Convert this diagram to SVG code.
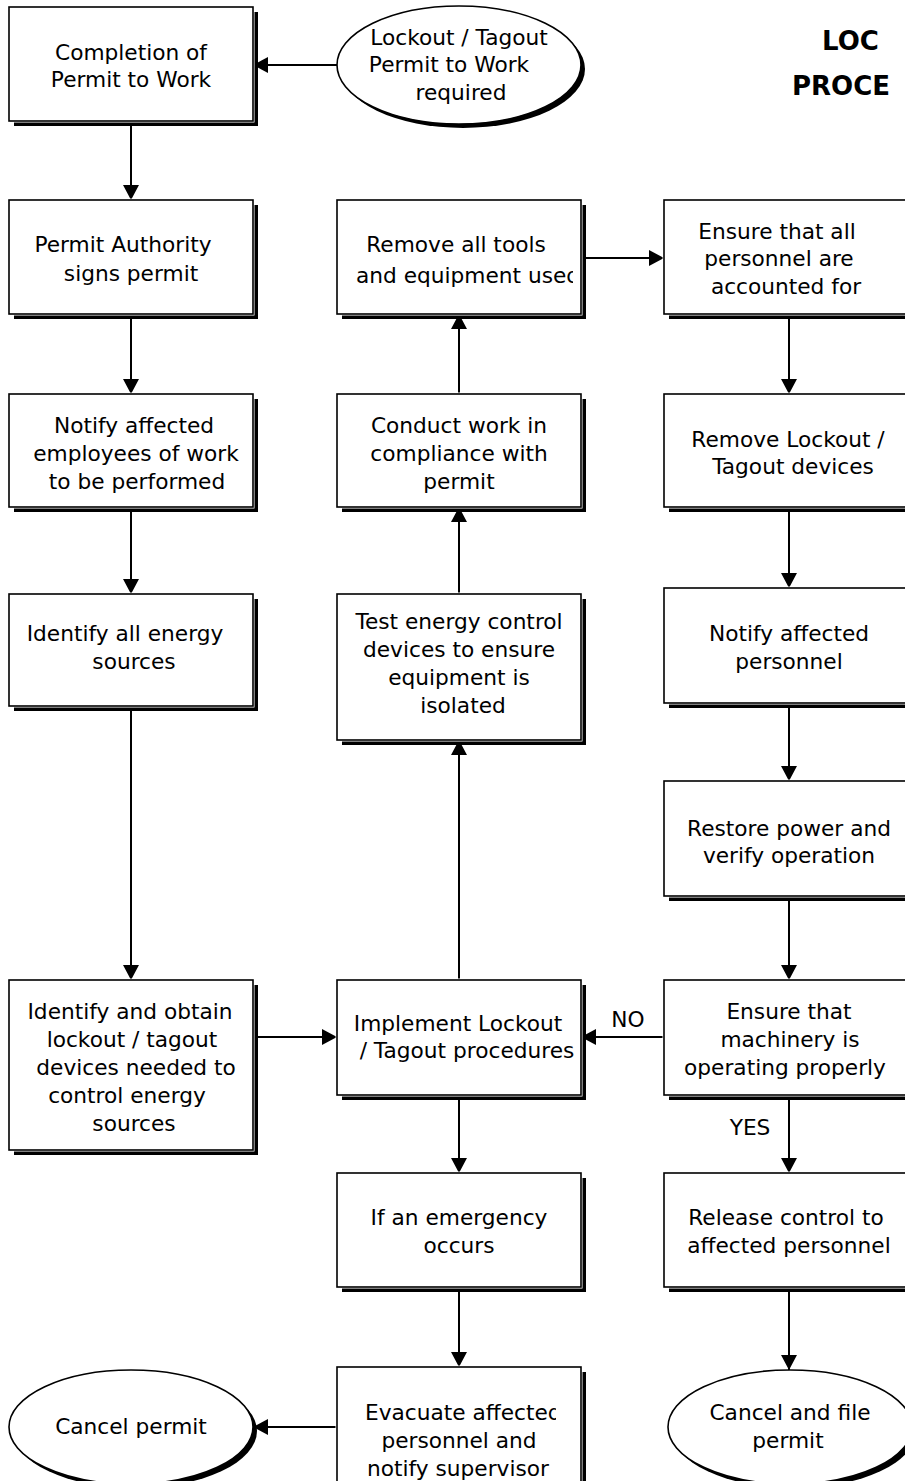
<svg xmlns="http://www.w3.org/2000/svg" width="905" height="1481" viewBox="0 0 905 1481">
<style>
.sh{fill:#000}
.bx{fill:#fff;stroke:#000;stroke-width:1.6}
.gap{fill:none;stroke:#fff;stroke-width:3}
.t{font-family:"DejaVu Sans","Liberation Sans",sans-serif;font-size:21.7px;fill:#000;text-anchor:middle}
.ts{text-anchor:start}
.title{font-family:"DejaVu Sans","Liberation Sans",sans-serif;font-size:26px;font-weight:bold;fill:#000}
.c{stroke:#000;stroke-width:2;fill:none;marker-end:url(#ah)}
</style>
<defs>
<marker id="ah" markerUnits="userSpaceOnUse" markerWidth="16" markerHeight="16" refX="15" refY="8" orient="auto">
<path d="M0,0 L15,8 L0,16 z" fill="#000"/>
</marker>
<clipPath id="cm1"><rect x="338" y="200" width="235" height="114"/></clipPath>
<clipPath id="cm2"><rect x="338" y="1367" width="218" height="114"/></clipPath>
</defs>
<rect width="905" height="1481" fill="#fff"/>

<g id="title">
<text class="title" x="822" y="50">LOC</text>
<text class="title" x="792" y="95">PROCE</text>
</g>

<g id="connectors">
<line class="c" x1="337" y1="65" x2="253" y2="65"/>
<line class="c" x1="131" y1="121" x2="131" y2="200"/>
<line class="c" x1="131" y1="314" x2="131" y2="394"/>
<line class="c" x1="131" y1="507" x2="131" y2="594"/>
<line class="c" x1="131" y1="706" x2="131" y2="980"/>
<line class="c" x1="253" y1="1037" x2="337" y2="1037"/>
<line class="c" x1="459" y1="980" x2="459" y2="740"/>
<line class="c" x1="459" y1="594" x2="459" y2="507"/>
<line class="c" x1="459" y1="394" x2="459" y2="314"/>
<line class="c" x1="581" y1="258" x2="664" y2="258"/>
<line class="c" x1="789" y1="314" x2="789" y2="394"/>
<line class="c" x1="789" y1="507" x2="789" y2="588"/>
<line class="c" x1="789" y1="703" x2="789" y2="781"/>
<line class="c" x1="789" y1="896" x2="789" y2="980"/>
<line class="c" x1="664" y1="1037" x2="581" y2="1037"/>
<line class="c" x1="789" y1="1095" x2="789" y2="1173"/>
<line class="c" x1="789" y1="1287" x2="789" y2="1370"/>
<line class="c" x1="459" y1="1095" x2="459" y2="1173"/>
<line class="c" x1="459" y1="1287" x2="459" y2="1367"/>
<line class="c" x1="337" y1="1427" x2="253" y2="1427"/>
<text class="t" x="628" y="1027">NO</text>
<text class="t" x="750" y="1135">YES</text>
</g>

<g id="n-start">
<ellipse class="sh" cx="463" cy="69" rx="122" ry="59"/>
<ellipse class="bx" cx="459" cy="65" rx="122" ry="59"/>
<text class="t" x="459" y="45">Lockout / Tagout</text>
<text class="t" x="449" y="72">Permit to Work</text>
<text class="t" x="461" y="100">required</text>
</g>

<g id="n-completion">
<rect class="sh" x="14" y="12" width="244" height="114"/>
<rect class="gap" x="9" y="7" width="244" height="114"/>
<rect class="bx" x="9" y="7" width="244" height="114"/>
<text class="t" x="131" y="60">Completion of</text>
<text class="t" x="131" y="87">Permit to Work</text>
</g>

<g id="n-authority">
<rect class="sh" x="14" y="205" width="244" height="114"/>
<rect class="gap" x="9" y="200" width="244" height="114"/>
<rect class="bx" x="9" y="200" width="244" height="114"/>
<text class="t" x="123" y="252">Permit Authority</text>
<text class="t" x="131" y="281">signs permit</text>
</g>

<g id="n-notify-emp">
<rect class="sh" x="14" y="399" width="244" height="113"/>
<rect class="gap" x="9" y="394" width="244" height="113"/>
<rect class="bx" x="9" y="394" width="244" height="113"/>
<text class="t" x="134" y="433">Notify affected</text>
<text class="t" x="136" y="461">employees of work</text>
<text class="t" x="137" y="489">to be performed</text>
</g>

<g id="n-identify-all">
<rect class="sh" x="14" y="599" width="244" height="112"/>
<rect class="gap" x="9" y="594" width="244" height="112"/>
<rect class="bx" x="9" y="594" width="244" height="112"/>
<text class="t" x="125" y="641">Identify all energy</text>
<text class="t" x="134" y="669">sources</text>
</g>

<g id="n-identify-obtain">
<rect class="sh" x="14" y="985" width="244" height="170"/>
<rect class="gap" x="9" y="980" width="244" height="170"/>
<rect class="bx" x="9" y="980" width="244" height="170"/>
<text class="t" x="130" y="1019">Identify and obtain</text>
<text class="t" x="132" y="1047">lockout / tagout</text>
<text class="t" x="136" y="1075">devices needed to</text>
<text class="t" x="127" y="1103">control energy</text>
<text class="t" x="134" y="1131">sources</text>
</g>

<g id="n-remove-tools">
<rect class="sh" x="342" y="205" width="244" height="114"/>
<rect class="gap" x="337" y="200" width="244" height="114"/>
<rect class="bx" x="337" y="200" width="244" height="114"/>
<g clip-path="url(#cm1)">
<text class="t" x="456" y="252">Remove all tools</text>
<text class="t ts" x="356" y="283">and equipment used</text>
</g>
</g>

<g id="n-conduct">
<rect class="sh" x="342" y="399" width="244" height="113"/>
<rect class="gap" x="337" y="394" width="244" height="113"/>
<rect class="bx" x="337" y="394" width="244" height="113"/>
<text class="t" x="459" y="433">Conduct work in</text>
<text class="t" x="459" y="461">compliance with</text>
<text class="t" x="459" y="489">permit</text>
</g>

<g id="n-test">
<rect class="sh" x="342" y="599" width="244" height="146"/>
<rect class="gap" x="337" y="594" width="244" height="146"/>
<rect class="bx" x="337" y="594" width="244" height="146"/>
<text class="t" x="459" y="629">Test energy control</text>
<text class="t" x="459" y="657">devices to ensure</text>
<text class="t" x="459" y="685">equipment is</text>
<text class="t" x="463" y="713">isolated</text>
</g>

<g id="n-implement">
<rect class="sh" x="342" y="985" width="244" height="115"/>
<rect class="gap" x="337" y="980" width="244" height="115"/>
<rect class="bx" x="337" y="980" width="244" height="115"/>
<text class="t" x="458" y="1031">Implement Lockout</text>
<text class="t" x="467" y="1058">/ Tagout procedures</text>
</g>

<g id="n-emergency">
<rect class="sh" x="342" y="1178" width="244" height="114"/>
<rect class="gap" x="337" y="1173" width="244" height="114"/>
<rect class="bx" x="337" y="1173" width="244" height="114"/>
<text class="t" x="459" y="1225">If an emergency</text>
<text class="t" x="459" y="1253">occurs</text>
</g>

<g id="n-evacuate">
<rect class="sh" x="342" y="1372" width="244" height="120"/>
<rect class="gap" x="337" y="1367" width="244" height="120"/>
<rect class="bx" x="337" y="1367" width="244" height="120"/>
<g clip-path="url(#cm2)">
<text class="t ts" x="365" y="1420">Evacuate affected</text>
</g>
<text class="t" x="459" y="1448">personnel and</text>
<text class="t" x="458" y="1476">notify supervisor</text>
</g>

<g id="n-cancel">
<ellipse class="sh" cx="135" cy="1431" rx="122" ry="57"/>
<ellipse class="bx" cx="131" cy="1427" rx="122" ry="57"/>
<text class="t" x="131" y="1434">Cancel permit</text>
</g>

<g id="n-ensure-personnel">
<rect class="sh" x="669" y="205" width="244" height="114"/>
<rect class="gap" x="664" y="200" width="244" height="114"/>
<rect class="bx" x="664" y="200" width="244" height="114"/>
<text class="t" x="777" y="239">Ensure that all</text>
<text class="t" x="779" y="266">personnel are</text>
<text class="t" x="786" y="294">accounted for</text>
</g>

<g id="n-remove-lockout">
<rect class="sh" x="669" y="399" width="244" height="113"/>
<rect class="gap" x="664" y="394" width="244" height="113"/>
<rect class="bx" x="664" y="394" width="244" height="113"/>
<text class="t" x="788" y="447">Remove Lockout /</text>
<text class="t" x="793" y="474">Tagout devices</text>
</g>

<g id="n-notify-pers">
<rect class="sh" x="669" y="593" width="244" height="115"/>
<rect class="gap" x="664" y="588" width="244" height="115"/>
<rect class="bx" x="664" y="588" width="244" height="115"/>
<text class="t" x="789" y="641">Notify affected</text>
<text class="t" x="789" y="669">personnel</text>
</g>

<g id="n-restore">
<rect class="sh" x="669" y="786" width="244" height="115"/>
<rect class="gap" x="664" y="781" width="244" height="115"/>
<rect class="bx" x="664" y="781" width="244" height="115"/>
<text class="t" x="789" y="836">Restore power and</text>
<text class="t" x="789" y="863">verify operation</text>
</g>

<g id="n-ensure-machinery">
<rect class="sh" x="669" y="985" width="244" height="115"/>
<rect class="gap" x="664" y="980" width="244" height="115"/>
<rect class="bx" x="664" y="980" width="244" height="115"/>
<text class="t" x="789" y="1019">Ensure that</text>
<text class="t" x="790" y="1047">machinery is</text>
<text class="t" x="785" y="1075">operating properly</text>
</g>

<g id="n-release">
<rect class="sh" x="669" y="1178" width="244" height="114"/>
<rect class="gap" x="664" y="1173" width="244" height="114"/>
<rect class="bx" x="664" y="1173" width="244" height="114"/>
<text class="t" x="786" y="1225">Release control to</text>
<text class="t" x="789" y="1253">affected personnel</text>
</g>

<g id="n-cancel-file">
<ellipse class="sh" cx="794" cy="1431" rx="122" ry="57"/>
<ellipse class="bx" cx="790" cy="1427" rx="122" ry="57"/>
<text class="t" x="790" y="1420">Cancel and file</text>
<text class="t" x="788" y="1448">permit</text>
</g>
</svg>
